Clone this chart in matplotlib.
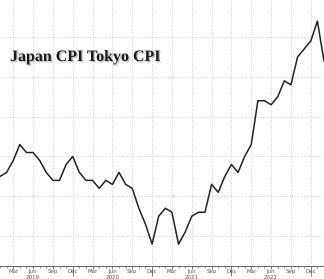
import matplotlib.pyplot as plt
import matplotlib.patheffects as pe

# Tokyo CPI YoY %, monthly from Jan 2019 to Feb 2023
tokyo_cpi = [0.5, 0.6, 0.9, 1.3, 1.1, 1.1, 0.9, 0.6, 0.4, 0.4, 0.8, 1.0,
             0.6, 0.4, 0.4, 0.2, 0.4, 0.3, 0.6, 0.3, 0.2, -0.3, -0.7, -1.2,
             -0.5, -0.3, -0.4, -1.2, -0.9, -0.5, -0.4, -0.4, 0.3, 0.1, 0.5, 0.8,
             0.6, 1.0, 1.3, 2.4, 2.4, 2.3, 2.5, 2.9, 2.8, 3.5, 3.7, 3.9,
             4.4, 3.4]
month_names = ["Mar", "Jun", "Sep", "Dec"]
years = ["2019", "2020", "2021", "2022"]

months = list(range(len(tokyo_cpi)))

fig = plt.figure(figsize=(3.24, 2.79), dpi=100)
ax = fig.add_axes([0, 13 / 279, 1, 1 - 13 / 279])

ax.plot(months, tokyo_cpi, color="#222222", lw=1.1)

ax.set_xlim(0.21, 48.42)
ax.set_ylim(-1.75, 4.93)

# quarterly ticks, monthly minor ticks
major = [2 + 3 * i for i in range(16)]
ax.set_xticks(major)
ax.set_xticklabels([month_names[i % 4] for i in range(16)])
ax.set_xticks(months, minor=True)
ax.tick_params(axis="x", which="major", length=2, width=0.6, color="#666666",
               labelsize=4, labelcolor="#555555", pad=0.5)
ax.tick_params(axis="x", which="minor", length=1.5, width=0.5, color="#666666")
for i, t in enumerate(ax.xaxis.get_major_ticks()):
    if i % 4 == 3:
        t.tick1line.set_markersize(7)

for k, yr in enumerate(years):
    ax.text(5 + 12 * k, -0.043, yr, transform=ax.get_xaxis_transform(),
            ha="center", va="center", fontsize=4, color="#555555")

ax.set_yticks([-1, 0, 1, 2, 3, 4])
ax.tick_params(axis="y", left=False, labelleft=False)
ax.grid(True, which="major", color="#d0d0d0", ls=(0, (1, 1.5)), lw=0.7)

for s in ["left", "right", "top"]:
    ax.spines[s].set_visible(False)
ax.spines["bottom"].set_color("#666666")
ax.spines["bottom"].set_linewidth(0.7)

fig.text(10 / 324, 1 - 57 / 279, "Japan CPI Tokyo CPI", family="Liberation Serif",
         fontweight="bold", fontsize=11.5, color="#1a1a1a", va="center", ha="left",
         path_effects=[pe.SimplePatchShadow(offset=(1, -1), shadow_rgbFace="#999999", alpha=0.6),
                       pe.Normal()])

fig.savefig("out.png", dpi=100)
